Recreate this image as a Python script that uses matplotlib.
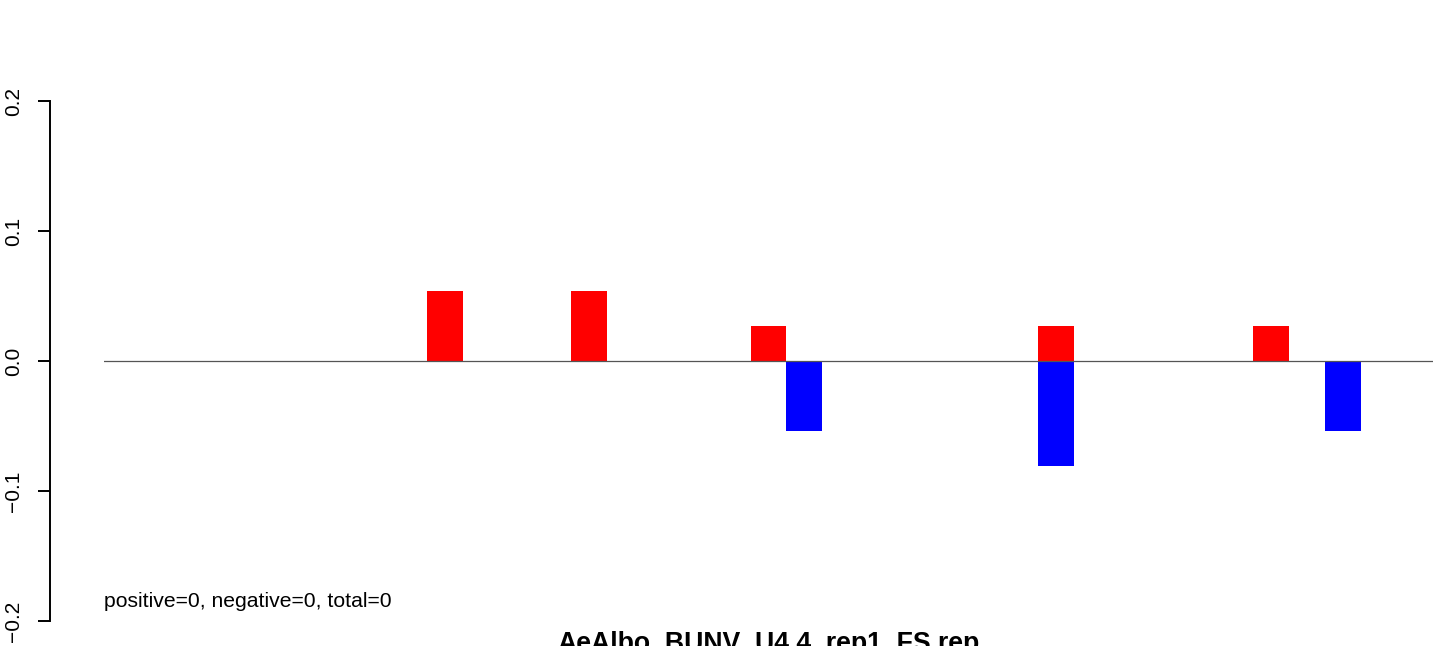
import matplotlib
matplotlib.use('Agg')
import matplotlib.pyplot as plt
import numpy as np

plt.rcParams['font.family'] = ['Liberation Sans', 'DejaVu Sans']

# 37 positions, bars drawn with no space between them
n_pos = 37
pos_idx = [9, 13, 18, 26, 32]
pos_vals = [0.054, 0.054, 0.027, 0.027, 0.027]
neg_idx = [19, 26, 34]
neg_vals = [-0.054, -0.081, -0.054]
yticks = [-0.2, -0.1, 0.0, 0.1, 0.2]
ytick_labels = ['\u22120.2', '\u22120.1', '0.0', '0.1', '0.2']
title = 'AeAlbo_BUNV_U4.4_rep1_FS.rep'
note = 'positive=0, negative=0, total=0'

W, H = 1444, 646
fig = plt.figure(figsize=(W / 100, H / 100), dpi=100)
ax = fig.add_axes([104 / W, (H - 621) / H, (1433 - 104) / W, 520 / H])

ax.bar(pos_idx, pos_vals, width=1, align='edge', color='#ff0000', linewidth=0)
ax.bar(neg_idx, neg_vals, width=1, align='edge', color='#0000ff', linewidth=0)
ax.axhline(0, color='#555555', lw=0.9, zorder=3)

ax.set_xlim(0, n_pos)
ax.set_ylim(-0.2, 0.2)

for s in ['top', 'right', 'bottom']:
    ax.spines[s].set_visible(False)
ax.spines['left'].set_position(('outward', 54 * 0.72))
ax.spines['left'].set_bounds(-0.2, 0.2)
ax.spines['left'].set_linewidth(1.4)
ax.set_xticks([])
ax.set_yticks(yticks)
ax.set_yticklabels(ytick_labels, rotation=90, va='center', fontsize=15)
ax.tick_params(axis='y', length=8.6, width=1.4, pad=11)

ax.text(0, -0.1892, note, fontsize=15.2, ha='left', va='baseline')
fig.text(768 / W, (H - 651) / H, title, fontsize=19.2, fontweight='bold',
         ha='center', va='baseline')

fig.savefig('out.png', dpi=100)
